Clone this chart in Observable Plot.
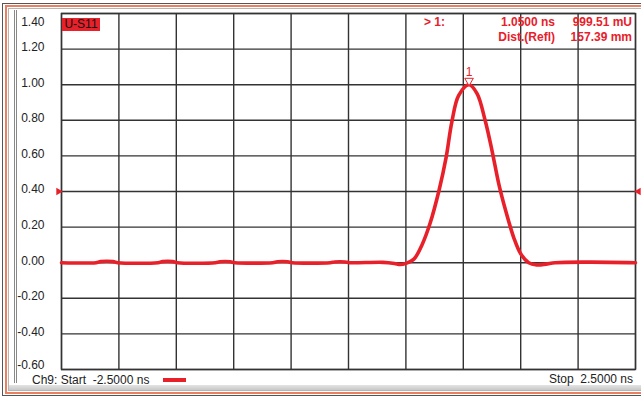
<!DOCTYPE html>
<html>
<head>
<meta charset="utf-8">
<script src="https://cdn.jsdelivr.net/npm/d3@7"></script>
<script src="https://cdn.jsdelivr.net/npm/@observablehq/plot@0.6"></script>
<style>
  html, body { margin: 0; padding: 0; background: #fff; }
  #wrap { position: relative; width: 641px; height: 397px; overflow: hidden; background: #fff;
          font-family: "Liberation Sans", Arial, sans-serif; font-size: 12px; }
  #wrap svg { position: absolute; left: 0; top: 0; }
  .ov { position: absolute; white-space: pre; line-height: 1; }
  .red { color: #e8202a; font-weight: bold; }
  .box { position: absolute; box-sizing: border-box; }
</style>
</head>
<body>
<div id="wrap"></div>
<script>
// ---- data ----
const timeNs = [-2.5, -2.2, -2.16, -2.05, -2.01, -1.66, -1.62, -1.53, -1.49, -1.16, -1.12, -1.03, -0.99,
  -0.66, -0.62, -0.53, -0.49, -0.16, -0.12, -0.03, 0.01, 0.3, 0.4, 0.45, 0.5, 0.57, 0.64, 0.71, 0.79,
  0.85, 0.9, 0.96, 1.05, 1.12, 1.19, 1.25, 1.31, 1.37, 1.44, 1.5, 1.57, 1.64, 1.72, 1.8, 2.1, 2.5];
const reflU = [0, 0, 0.006, 0.006, 0, 0, 0.006, 0.006, 0, 0, 0.005, 0.005, 0,
  0, 0.005, 0.005, 0, 0, 0.004, 0.004, 0, 0.002, -0.004, -0.01, -0.004, 0.02, 0.1, 0.22, 0.41,
  0.59, 0.79, 0.94, 0.9995, 0.95, 0.8, 0.63, 0.44, 0.29, 0.14, 0.05, 0.0, -0.012, -0.008, 0, 0.003, 0];
const xTicks = [-2.5, -2.0, -1.5, -1.0, -0.5, 0, 0.5, 1.0, 1.5, 2.0, 2.5];
const yTicks = [-0.6, -0.4, -0.2, 0, 0.2, 0.4, 0.6, 0.8, 1.0, 1.2, 1.4];
const yTickLabels = ["-0.60", "-0.40", "-0.20", "0.00", "0.20", "0.40", "0.60", "0.80", "1.00", "1.20", "1.40"];
const markerNs = [1.05];
const markerU = [0.9995];
const markerNames = ["1"];
const refLevel = [0.4];

const RED = "#e8202a";
const GRID = "#333";

const trace = timeNs.map((t, i) => ({t, v: reflU[i]}));
const ticks = yTicks.map((v, i) => ({v, label: yTickLabels[i]}));
const midTicks = ticks.slice(1, -1);
const markers = markerNs.map((t, i) => ({t, v: markerU[i], name: markerNames[i]}));

const chart = Plot.plot({
  width: 641,
  height: 397,
  marginLeft: 61,
  marginRight: 6,
  marginTop: 13,
  marginBottom: 28,
  style: {background: "transparent", fontFamily: "Liberation Sans, Arial, sans-serif", fontSize: "12px"},
  x: {domain: [-2.5, 2.5], axis: null},
  y: {domain: [-0.6, 1.4], axis: null},
  marks: [
    Plot.gridX(xTicks, {stroke: GRID, strokeOpacity: 1, strokeWidth: 1.4}),
    Plot.gridY(yTicks, {stroke: GRID, strokeOpacity: 1, strokeWidth: 1.4}),
    Plot.frame({stroke: GRID, strokeWidth: 1.4}),
    // y tick labels
    Plot.text(midTicks, {y: "v", text: "label", frameAnchor: "left", dx: -17, dy: -2, textAnchor: "end", fill: "#222"}),
    Plot.text(ticks.slice(-1), {y: "v", text: "label", frameAnchor: "left", dx: -17, dy: 9, textAnchor: "end", fill: "#222"}),
    Plot.text(ticks.slice(0, 1), {y: "v", text: "label", frameAnchor: "left", dx: -17, dy: -4, textAnchor: "end", fill: "#222"}),
    // trace
    Plot.line(trace, {x: "t", y: "v", stroke: RED, strokeWidth: 3.6, curve: "catmull-rom"}),
    // reference level triangles
    Plot.dot(refLevel, {y: d => d, frameAnchor: "left", dx: -3, symbol: "triangle", rotate: 90, r: 2.8, fill: RED, stroke: "none"}),
    Plot.dot(refLevel, {y: d => d, frameAnchor: "right", dx: 3, symbol: "triangle", rotate: -90, r: 2.8, fill: RED, stroke: "none"}),
    // marker 1
    Plot.dot(markers, {x: "t", y: "v", dy: -4, symbol: "triangle", rotate: 180, r: 3.2, fill: "white", stroke: RED, strokeWidth: 1}),
    Plot.text(markers, {x: "t", y: "v", text: "name", dy: -13, fill: RED, fontSize: 12})
  ]
});

const wrap = document.getElementById("wrap");
wrap.appendChild(chart);

function add(html, css, cls) {
  const d = document.createElement("div");
  d.className = cls || "ov";
  d.innerHTML = html;
  Object.assign(d.style, css);
  wrap.appendChild(d);
  return d;
}
// window chrome
add("", {left: "2px", top: "3px", right: "-10px", bottom: "1px", borderLeft: "1px solid #555", borderTop: "1px solid #555", borderBottom: "1px solid #555"}, "box");
add("", {left: "5px", top: "5px", right: "-10px", bottom: "3px", borderLeft: "2px solid #e9805f", borderTop: "2px solid #e9805f", borderBottom: "2px solid #e9805f"}, "box");
add("", {left: "8px", top: "8px", right: "-10px", bottom: "6px", borderLeft: "1px solid #b5b5b5", borderTop: "1px solid #b5b5b5", borderBottom: "1px solid #b5b5b5"}, "box");
add("", {left: "14px", top: "10px", width: "1px", height: "373px", background: "#888"}, "box");
add("", {left: "16px", top: "10px", width: "1px", height: "373px", background: "#888"}, "box");
add("", {left: "9px", top: "385px", right: "0px", height: "5px", background: "linear-gradient(#e4e4e4, #c8c8c8)"}, "box");

// channel label
add("U-S11", {left: "62px", top: "18px", width: "38px", height: "13px", background: "#e8202a", color: "#111", fontSize: "12px", textAlign: "center", lineHeight: "13px"});
// marker readout
add("&gt; 1:", {left: "424px", top: "16px"}, "ov red");
add("1.0500 ns", {right: "86px", top: "16px", textAlign: "right"}, "ov red");
add("999.51 mU", {right: "9px", top: "16px", textAlign: "right"}, "ov red");
add("Dist.(Refl)", {right: "86px", top: "31px", textAlign: "right"}, "ov red");
add("157.39 mm", {right: "9px", top: "31px", textAlign: "right"}, "ov red");
// status line
add("Ch9: Start  -2.5000 ns", {left: "32px", top: "374px", color: "#222"});
add("", {left: "163px", top: "378px", width: "23px", height: "4px", background: "#e8202a"}, "box");
add("Stop  2.5000 ns", {right: "8px", top: "373px", textAlign: "right", color: "#222"});
</script>
</body>
</html>
